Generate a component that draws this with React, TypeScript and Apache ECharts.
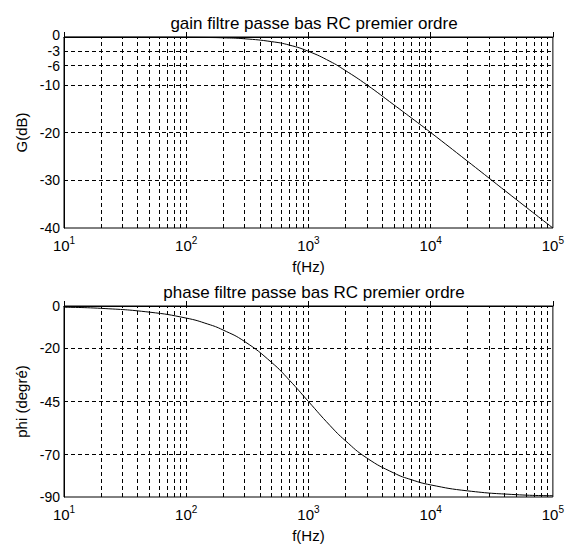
import React, { useEffect, useRef } from "react";
import * as echarts from "echarts";

// frequencies (Hz)
const freqs = [10, 20, 50, 100, 150, 200, 300, 500, 700, 1000, 1500, 2000, 3000, 5000, 7000, 10000, 20000, 50000, 100000];
// gain in dB
const gainDb = [0, 0, -0.01, -0.04, -0.1, -0.17, -0.37, -0.97, -1.7, -3.0, -5.1, -7.0, -10.0, -14.2, -17.0, -20.0, -26.0, -34.0, -40.0];
// phase in degrees
const phaseDeg = [-0.6, -1.1, -2.9, -5.7, -8.5, -11.3, -16.7, -26.6, -35.0, -45.0, -56.3, -63.4, -71.6, -78.7, -81.9, -84.3, -87.1, -88.9, -89.4];

// minor frequency grid lines (2..9 per decade)
const minorGrid = [20, 30, 40, 50, 60, 70, 80, 90, 200, 300, 400, 500, 600, 700, 800, 900, 2000, 3000, 4000, 5000, 6000, 7000, 8000, 9000, 20000, 30000, 40000, 50000, 60000, 70000, 80000, 90000];
const majorGrid = [100, 1000, 10000];

const gainTicks = [0, -3, -6, -10, -20, -30, -40];
const gainGrid = [-3, -6, -10, -20, -30];
const phaseTicks = [0, -20, -45, -70, -90];
const phaseGrid = [-20, -45, -70];

const titles = ["gain filtre passe bas RC premier ordre", "phase filtre passe bas RC premier ordre"];
const xName = "f(Hz)";
const yNames = ["G(dB)", "phi (degré)"];

const FONT = "Liberation Sans, Arial, sans-serif";

export default function App() {
  const ref = useRef<HTMLDivElement>(null);
  useEffect(() => {
    if (!ref.current) return;
    const chart = echarts.init(ref.current, null, { renderer: "svg" });
    const dash = { type: [4, 3], color: "#000", width: 1 };
    const gridLines = (ys: number[]) => ({
      symbol: "none",
      silent: true,
      animation: false,
      label: { show: false },
      lineStyle: dash,
      data: [
        ...minorGrid.map((v) => ({ xAxis: v })),
        ...majorGrid.map((v) => ({ xAxis: v })),
        ...ys.map((v) => ({ yAxis: v })),
      ],
    });
    const xAxisDef = (gi: number) => ({
      type: "log",
      gridIndex: gi,
      min: 10,
      max: 100000,
      logBase: 10,
      name: xName,
      nameLocation: "middle",
      nameGap: 31,
      nameTextStyle: { color: "#000", fontSize: 15, fontFamily: FONT },
      axisLine: { show: true, lineStyle: { color: "#000", width: 1 } },
      axisTick: { show: true, inside: true, length: 5, lineStyle: { color: "#000" } },
      splitLine: { show: false },
      minorTick: { show: false },
      axisLabel: {
        margin: 7,
        color: "#000",
        formatter: (v: number) => `{b|10}{s|${Math.round(Math.log10(v))}}`,
        rich: {
          b: { fontSize: 15, fontFamily: FONT, color: "#000" },
          s: { fontSize: 10, fontFamily: FONT, color: "#000", padding: [0, 0, 10, 0] },
        },
      },
    });
    const yAxisDef = (gi: number, min: number, interval: number, ticks: number[], name: string, gap: number, raiseTop: boolean) => ({
      type: "value",
      gridIndex: gi,
      min,
      max: 0,
      interval,
      name,
      nameLocation: "middle",
      nameGap: gap,
      nameTextStyle: { color: "#000", fontSize: 15, fontFamily: FONT },
      axisLine: { show: true, lineStyle: { color: "#000", width: 1 } },
      axisTick: { show: false },
      splitLine: { show: false },
      axisLabel: {
        margin: 4,
        color: "#000",
        fontSize: 14,
        lineHeight: 12,
        fontFamily: FONT,
        formatter: (v: number) => {
          const r = Math.round(v);
          if (!ticks.includes(r)) return "";
          return raiseTop && r === 0 ? `{t|0}` : String(r);
        },
        rich: {
          t: { fontSize: 14, lineHeight: 12, fontFamily: FONT, color: "#000", padding: [0, 0, 5, 0] },
        },
      },
    });
    chart.setOption({
      animation: false,
      backgroundColor: "#fff",
      title: [
        { text: titles[0], left: 309, top: 10, textAlign: "center", textStyle: { color: "#000", fontSize: 17, lineHeight: 17, fontWeight: "normal", fontFamily: FONT } },
        { text: titles[1], left: 309, top: 279, textAlign: "center", textStyle: { color: "#000", fontSize: 17, lineHeight: 17, fontWeight: "normal", fontFamily: FONT } },
      ],
      grid: [
        { left: 64, top: 37, width: 491, height: 191, show: true, borderColor: "#000", borderWidth: 1, backgroundColor: "#fff" },
        { left: 64, top: 306, width: 491, height: 191, show: true, borderColor: "#000", borderWidth: 1, backgroundColor: "#fff" },
      ],
      xAxis: [xAxisDef(0), xAxisDef(1)],
      yAxis: [
        yAxisDef(0, -40, 1, gainTicks, yNames[0], 35, true),
        yAxisDef(1, -90, 5, phaseTicks, yNames[1], 35, false),
      ],
      series: [
        {
          type: "line",
          xAxisIndex: 0,
          yAxisIndex: 0,
          data: freqs.map((f, i) => [f, gainDb[i]]),
          showSymbol: false,
          smooth: true,
          lineStyle: { color: "#000", width: 1 },
          markLine: gridLines(gainGrid),
          z: 3,
        },
        {
          type: "line",
          xAxisIndex: 1,
          yAxisIndex: 1,
          data: freqs.map((f, i) => [f, phaseDeg[i]]),
          showSymbol: false,
          smooth: true,
          lineStyle: { color: "#000", width: 1 },
          markLine: gridLines(phaseGrid),
          z: 3,
        },
      ],
    });
    return () => chart.dispose();
  }, []);
  return <div ref={ref} style={{ position: "absolute", left: 0, top: 0, width: 567, height: 548 }} />;
}
